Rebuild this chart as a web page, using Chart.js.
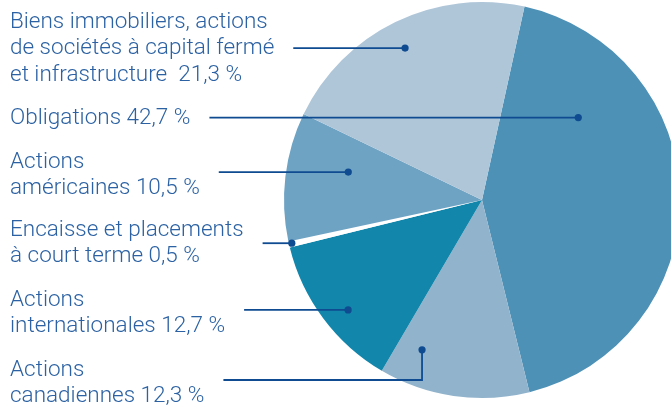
<!DOCTYPE html>
<html>
<head>
<meta charset="utf-8">
<script src="https://cdn.jsdelivr.net/npm/chart.js@4.4.1/dist/chart.umd.min.js"></script>
<style>
  html, body { margin: 0; padding: 0; background: #fff; overflow: hidden; }
  #wrap { width: 700px; height: 406px; }
</style>
</head>
<body>
<div id="wrap"><canvas id="pieChart" width="700" height="406"></canvas></div>
<script>
// slices, in drawing order (clockwise from the Obligations edge)
const categories = [
    'Obligations',
    'Actions canadiennes',
    'Actions internationales',
    'Encaisse et placements à court terme',
    'Actions américaines',
    'Biens immobiliers, actions de sociétés à capital fermé et infrastructure'
];
const values = [42.7, 12.3, 12.7, 0.5, 10.5, 21.3];
const labelLines = [
    ['Obligations'],
    ['Actions', 'canadiennes'],
    ['Actions', 'internationales'],
    ['Encaisse et placements', 'à court terme'],
    ['Actions', 'américaines'],
    ['Biens immobiliers, actions', 'de sociétés à capital fermé', 'et infrastructure ']
];
const colors = ['#4d91b6', '#91b3cc', '#1386ac', '#ffffff', '#6fa3c3', '#afc6d9'];

// where each label block sits and where its leader ends inside the slice
const labelLayout = [
    { top: 118, frac: 0.241, rf: 0.64 },
    { top: 370, frac: 0.806, rf: 0.815, lineY: 380 },
    { top: 300, frac: 0.442, rf: 0.875 },
    { top: 230, frac: 0.6, rf: 0.985 },
    { top: 162, frac: 0.632, rf: 0.69 },
    { top: 22, frac: 0.488, rf: 0.86 }
];

const TEXT_COLOR = '#2c62a3';
const LINE_COLOR = '#0e4b91';
const FONT = '300 22.5px Roboto';
const LINE_H = 26.5;

function pct(v) {
    return v.toFixed(1).replace('.', ',') + ' %';
}

const leaderLabels = {
    id: 'leaderLabels',
    afterDraw(chart) {
        const ctx = chart.ctx;
        const meta = chart.getDatasetMeta(0);
        ctx.save();
        ctx.font = FONT;
        ctx.textBaseline = 'middle';
        ctx.textAlign = 'left';
        meta.data.forEach((arc, i) => {
            const lay = labelLayout[i];
            const lines = labelLines[i].slice();
            lines[lines.length - 1] += ' ' + pct(values[i]);
            let maxW = 0;
            ctx.fillStyle = TEXT_COLOR;
            lines.forEach((t, k) => {
                ctx.fillText(t, 10, lay.top + k * LINE_H);
                maxW = Math.max(maxW, ctx.measureText(t).width);
            });
            const p = arc.getProps(['x', 'y', 'startAngle', 'endAngle', 'outerRadius'], true);
            const a = p.startAngle + lay.frac * (p.endAngle - p.startAngle);
            const dx = p.x + Math.cos(a) * p.outerRadius * lay.rf;
            const dy = p.y + Math.sin(a) * p.outerRadius * lay.rf;
            const ly = lay.lineY !== undefined ? lay.lineY : dy;
            ctx.strokeStyle = LINE_COLOR;
            ctx.lineWidth = 1.8;
            ctx.beginPath();
            ctx.moveTo(10 + maxW + 19, ly);
            ctx.lineTo(dx, ly);
            if (ly !== dy) ctx.lineTo(dx, dy);
            ctx.stroke();
            ctx.fillStyle = LINE_COLOR;
            ctx.beginPath();
            ctx.arc(dx, dy, 3.6, 0, Math.PI * 2);
            ctx.fill();
        });
        ctx.restore();
    }
};

const ctxPie = document.getElementById('pieChart').getContext('2d');

let pieChart = new Chart(ctxPie, {
    type: 'pie',
    data: {
        labels: categories,
        datasets: [{
            data: values,
            backgroundColor: colors,
            borderWidth: 0
        }]
    },
    options: {
        animation: false,
        responsive: false,
        rotation: 12.4,
        layout: {
            padding: { left: 284, right: 20, top: 2, bottom: 8 }
        },
        plugins: {
            legend: { display: false },
            tooltip: { enabled: false }
        }
    },
    plugins: [leaderLabels]
});
</script>
</body>
</html>
